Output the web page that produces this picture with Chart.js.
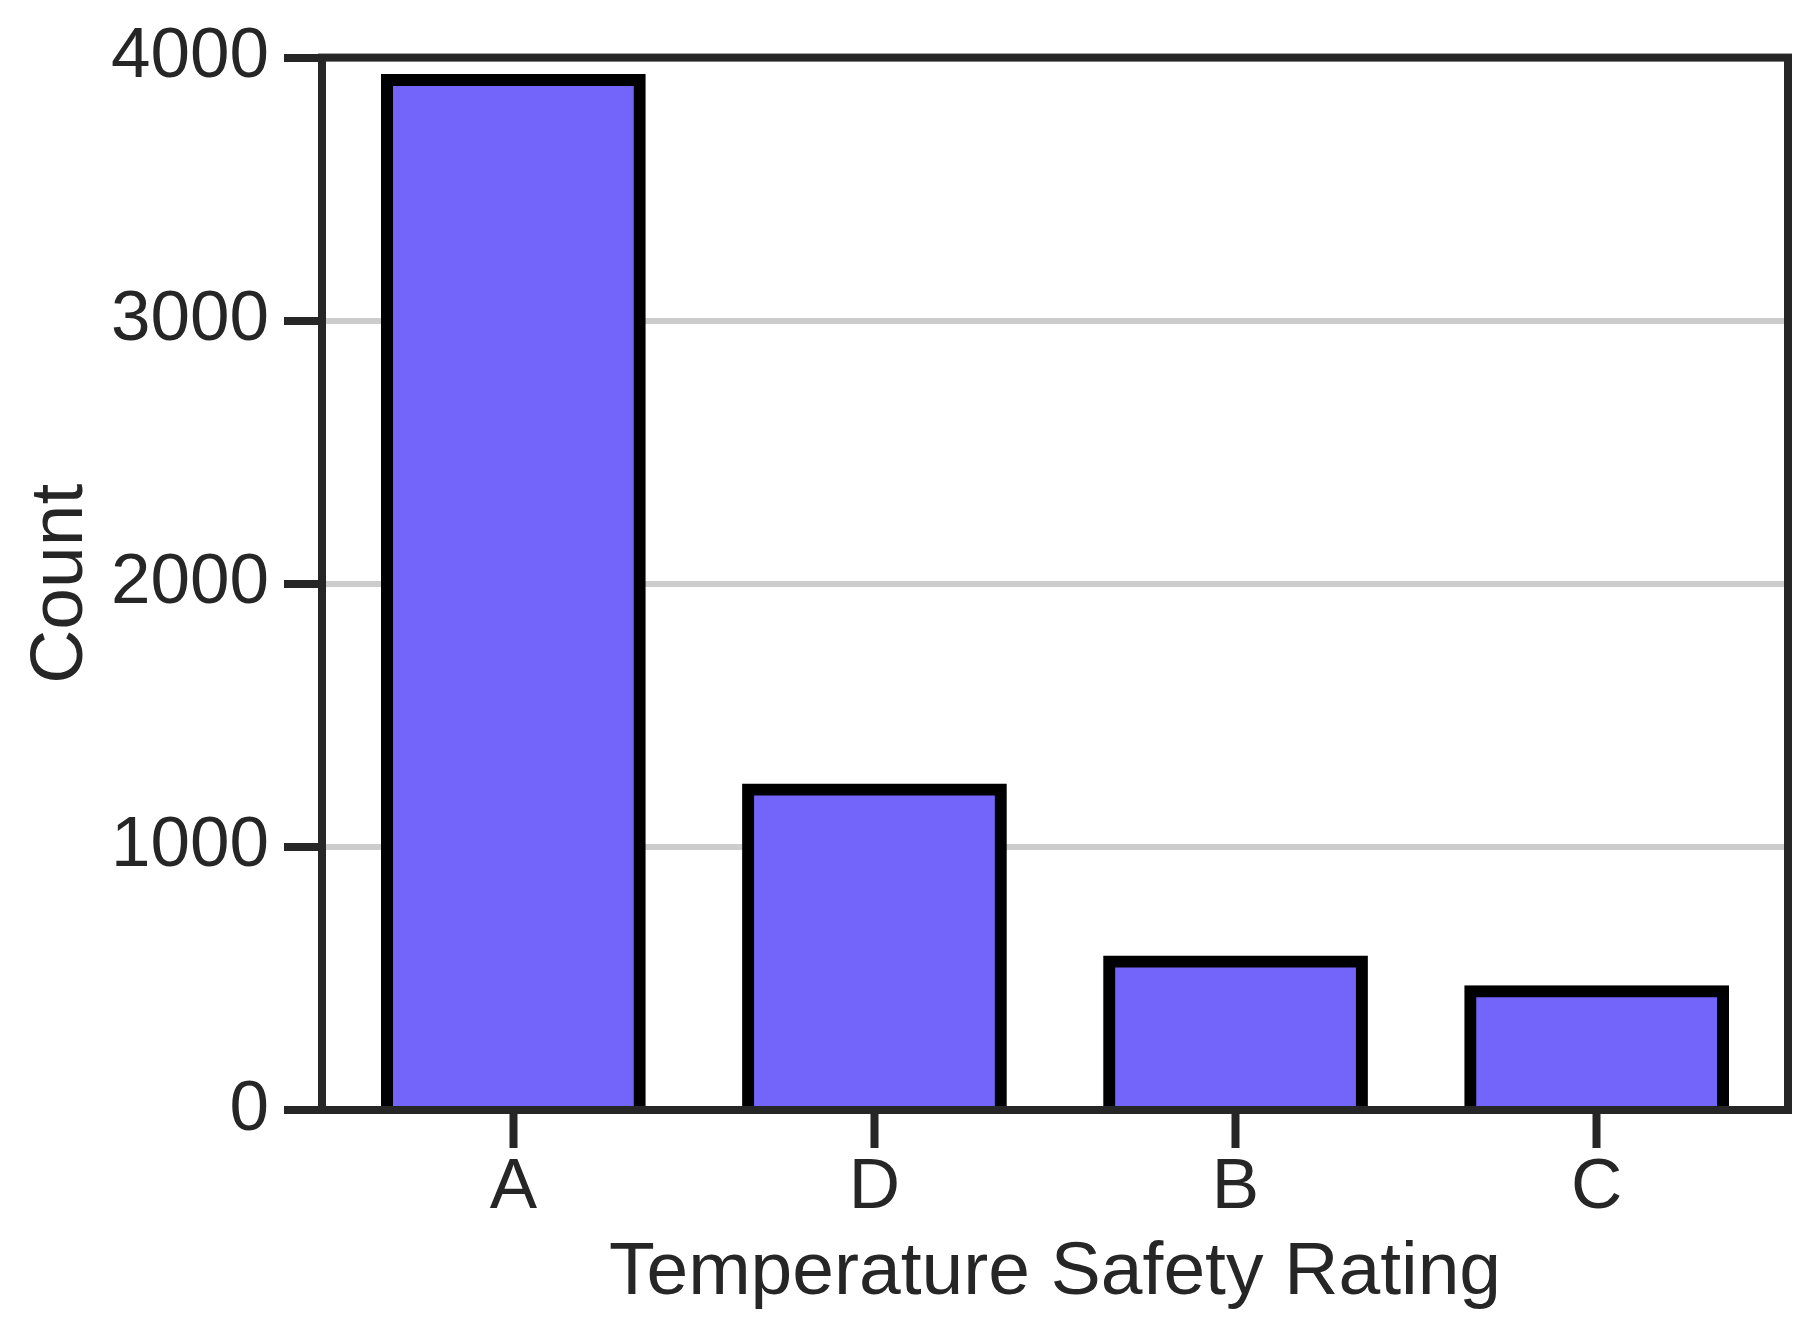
<!DOCTYPE html>
<html>
<head>
<meta charset="utf-8">
<script src="https://cdn.jsdelivr.net/npm/chart.js@4"></script>
<style>
  html, body { margin: 0; padding: 0; background: #fff; }
  #chart { display: block; }
</style>
</head>
<body>
<canvas id="chart" width="1818" height="1344"></canvas>
<script>
// ratings in plotted order and their counts
const ratings = ['A', 'D', 'B', 'C'];
const counts = [3915, 1218, 564, 451];
const yTicks = [0, 1000, 2000, 3000, 4000];

const ink = '#262626';
const fontFamily = "'Liberation Sans', Arial, sans-serif";

// draws the four spines round the plot area, on top of the bars
const frame = {
    id: 'frame',
    afterDatasetsDraw(chart) {
        const {ctx, chartArea: a} = chart;
        ctx.save();
        ctx.strokeStyle = ink;
        ctx.lineWidth = 8;
        ctx.strokeRect(a.left, a.top, a.right - a.left, a.bottom - a.top);
        ctx.restore();
    }
};

new Chart(document.getElementById('chart').getContext('2d'), {
    type: 'bar',
    data: {
        datasets: [{
            data: ratings.map((r, i) => ({x: i, y: counts[i]})),
            backgroundColor: 'rgb(116,101,250)',
            borderColor: '#000000',
            borderWidth: 12,
            inflateAmount: 6,
            borderSkipped: 'start',
            barPercentage: 0.7,
            categoryPercentage: 1,
            clip: 0
        }]
    },
    plugins: [frame],
    options: {
        responsive: false,
        devicePixelRatio: 1,
        animation: false,
        layout: { padding: { top: 54, right: 30, left: 0, bottom: 0 } },
        plugins: { legend: { display: false }, tooltip: { enabled: false } },
        scales: {
            x: {
                type: 'linear',
                min: -0.53,
                max: ratings.length - 1 + 0.53,
                offset: false,
                afterFit(scale) { scale.height = 234; },
                border: { display: false },
                grid: {
                    offset: false,
                    drawOnChartArea: false,
                    drawTicks: true,
                    tickLength: 38,
                    tickWidth: 8,
                    tickColor: ink
                },
                ticks: {
                    stepSize: 1,
                    includeBounds: false,
                    autoSkip: false,
                    maxRotation: 0,
                    padding: -2,
                    color: ink,
                    font: { family: fontFamily, size: 71 },
                    callback: v => ratings[v] ?? ''
                },
                title: {
                    display: true,
                    text: 'Temperature Safety Rating',
                    color: ink,
                    font: { family: fontFamily, size: 75 },
                    padding: { top: 0, bottom: 26 }
                }
            },
            y: {
                min: yTicks[0],
                max: yTicks[yTicks.length - 1],
                afterFit(scale) { scale.width = 322; },
                afterBuildTicks(scale) { scale.ticks = yTicks.map(v => ({value: v})); },
                border: { display: false },
                grid: {
                    color: '#cccccc',
                    lineWidth: 6,
                    drawTicks: true,
                    tickLength: 38,
                    tickWidth: 8,
                    tickColor: ink
                },
                ticks: {
                    padding: 15,
                    color: ink,
                    font: { family: fontFamily, size: 71 },
                    callback: v => String(v)
                },
                title: {
                    display: true,
                    text: 'Count',
                    color: ink,
                    font: { family: fontFamily, size: 75 },
                    padding: { top: 16, bottom: 0 }
                }
            }
        }
    }
});
</script>
</body>
</html>
